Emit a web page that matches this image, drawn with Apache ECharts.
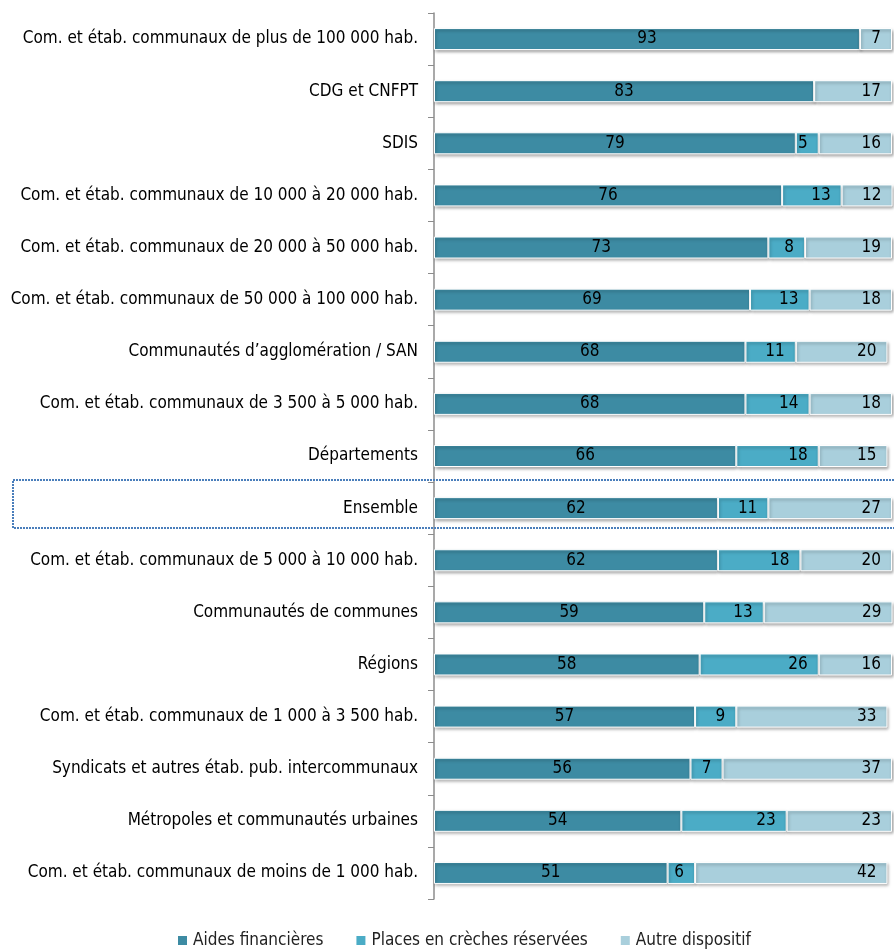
<!DOCTYPE html>
<html>
<head>
<meta charset="utf-8">
<script src="https://cdn.jsdelivr.net/npm/echarts@6/dist/echarts.min.js"></script>
<style>
html, body { margin: 0; padding: 0; background: #fff; }
#main { width: 894px; height: 952px; }
</style>
</head>
<body>
<div id="main"></div>
<script>
var categories = [
    'Com. et étab. communaux de plus de 100 000 hab.',
    'CDG et CNFPT',
    'SDIS',
    'Com. et étab. communaux de 10 000 à 20 000 hab.',
    'Com. et étab. communaux de 20 000 à 50 000 hab.',
    'Com. et étab. communaux de 50 000 à 100 000 hab.',
    'Communautés d’agglomération / SAN',
    'Com. et étab. communaux de 3 500 à 5 000 hab.',
    'Départements',
    'Ensemble',
    'Com. et étab. communaux de 5 000 à 10 000 hab.',
    'Communautés de communes',
    'Régions',
    'Com. et étab. communaux de 1 000 à 3 500 hab.',
    'Syndicats et autres étab. pub. intercommunaux',
    'Métropoles et communautés urbaines',
    'Com. et étab. communaux de moins de 1 000 hab.'
];
var aides = [93, 83, 79, 76, 73, 69, 68, 68, 66, 62, 62, 59, 58, 57, 56, 54, 51];
var places = [0, 0, 5, 13, 8, 13, 11, 14, 18, 11, 18, 13, 26, 9, 7, 23, 6];
var autre = [7, 17, 16, 12, 19, 18, 20, 18, 15, 27, 20, 29, 16, 33, 37, 23, 42];

var font = "'Liberation Sans Narrow', 'DejaVu Sans Condensed', 'Noto Sans', sans-serif";

var myChart = echarts.init(document.getElementById('main'));

function barSeries(name, values, color, pos) {
    return {
        name: name,
        type: 'bar',
        stack: 'total',
        barWidth: 22,
        data: values,
        itemStyle: {
            color: color,
            borderColor: '#ffffff',
            borderWidth: 1,
            shadowColor: 'rgba(0,0,0,0.35)',
            shadowBlur: 3,
            shadowOffsetX: 1,
            shadowOffsetY: 2
        },
        label: {
            show: true,
            position: pos,
            distance: 11,
            color: '#000000',
            fontFamily: font,
            fontSize: 17,
            formatter: function (p) { return p.value ? p.value : ''; }
        }
    };
}

var option = {
    animation: false,
    textStyle: { fontFamily: font },
    grid: { left: 434, right: 2, top: 13, bottom: 53 },
    legend: {
        bottom: -2,
        left: 171,
        itemWidth: 11,
        itemHeight: 11,
        itemGap: 31,
        icon: 'rect',
        textStyle: { fontFamily: font, fontSize: 17, color: '#222222' }
    },
    xAxis: {
        type: 'value',
        min: 0,
        max: 100,
        show: false
    },
    yAxis: {
        type: 'category',
        inverse: true,
        data: categories,
        axisLine: { show: true, lineStyle: { color: '#8c8c8c', width: 1.5 } },
        axisTick: { show: true, length: 6, lineStyle: { color: '#8c8c8c' } },
        axisLabel: { color: '#000000', fontSize: 17, fontFamily: font, margin: 16 }
    },
    series: [
        barSeries('Aides financières', aides, '#3d8ba3', 'inside'),
        barSeries('Places en crèches réservées', places, '#4bacc6', 'insideRight'),
        barSeries('Autre dispositif', autre, '#a9cfdc', 'insideRight')
    ]
};

myChart.setOption(option);

// cadre pointillé autour de la ligne "Ensemble"
var yc = myChart.convertToPixel({ yAxisIndex: 0 }, 'Ensemble');
myChart.setOption({
    graphic: [{
        type: 'rect',
        shape: { x: 13, y: yc - 28, width: 900, height: 48 },
        style: { fill: 'none', stroke: '#4a7ebb', lineWidth: 2, lineDash: [2, 1] },
        z: 10
    }]
});
</script>
</body>
</html>
